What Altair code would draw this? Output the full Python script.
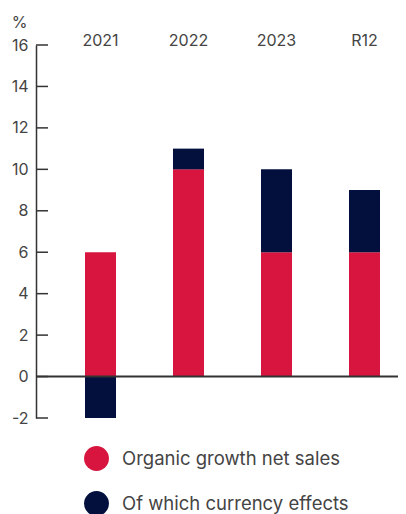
import altair as alt
import pandas as pd

categories = ["2021", "2022", "2023", "R12"]
organic = [6, 10, 6, 6]
currency = [-2, 1, 4, 3]
series_names = ["Organic growth net sales", "Of which currency effects"]
colors = ["#D8153F", "#03103E"]
y_ticks = [-2, 0, 2, 4, 6, 8, 10, 12, 14, 16]

rows = []
for c, o, cu in zip(categories, organic, currency):
    rows.append({"cat": c, "series": series_names[0], "value": o, "ord": 0})
    rows.append({"cat": c, "series": series_names[1], "value": cu, "ord": 1})
df = pd.DataFrame(rows)
ticks_df = pd.DataFrame({"t": y_ticks})
zero_df = pd.DataFrame({"z": [0]})

FONT = "Inter"
TXT = "#444444"

yscale = alt.Scale(domain=[-2, 16], nice=False, zero=False)

bars = alt.Chart(df).mark_bar(size=31).encode(
    x=alt.X("cat:N", sort=categories,
            scale=alt.Scale(range=[20.5, 372.5], paddingInner=0, paddingOuter=0),
            axis=alt.Axis(orient="top", title=None, domain=False, ticks=False,
                          labelPadding=0, labelBaseline="alphabetic",
                          labelAngle=0, labelFontSize=16,
                          labelColor=TXT, labelFont=FONT)),
    y=alt.Y("value:Q", stack="zero", scale=yscale,
            axis=alt.Axis(values=y_ticks, title="%", titleAngle=0, titleX=-17,
                          titleY=-18, titleFontSize=16, titleFontWeight="normal",
                          titleColor=TXT, titleFont=FONT, titleAlign="center",
                          titleBaseline="alphabetic",
                          labelExpr="'' + datum.value",
                          ticks=False, grid=False, labelPadding=8,
                          labelFontSize=16, labelColor=TXT, labelFont=FONT,
                          domainColor="#333333", domainWidth=1.5)),
    color=alt.Color("series:N", sort=series_names,
                    scale=alt.Scale(domain=series_names, range=colors),
                    legend=alt.Legend(orient="none", legendX=48, legendY=401,
                                      title=None, symbolType="circle",
                                      symbolSize=620, symbolStrokeWidth=0,
                                      labelFontSize=18.5, labelColor=TXT,
                                      labelFont=FONT, rowPadding=20,
                                      labelOffset=13, symbolOpacity=1,
                                      labelLimit=400)),
    order=alt.Order("ord:Q"),
)

tick_marks = alt.Chart(ticks_df).mark_rule(color="#333333", strokeWidth=1.5).encode(
    y=alt.Y("t:Q", scale=yscale),
    x=alt.value(0),
    x2=alt.value(12),
)

zero_line = alt.Chart(zero_df).mark_rule(color="#333333", strokeWidth=2).encode(
    y=alt.Y("z:Q", scale=yscale),
    x=alt.value(0),
    x2=alt.value(362),
)

chart = alt.layer(bars, zero_line, tick_marks).properties(
    width=362,
    height=373,
    autosize=alt.AutoSizeParams(type="none"),
    padding={"left": 28, "top": 37, "right": 0, "bottom": 96},
).configure_view(stroke=None).configure_axis(grid=False)

chart.save("out.html", embed_options={"renderer": "svg", "actions": False})
